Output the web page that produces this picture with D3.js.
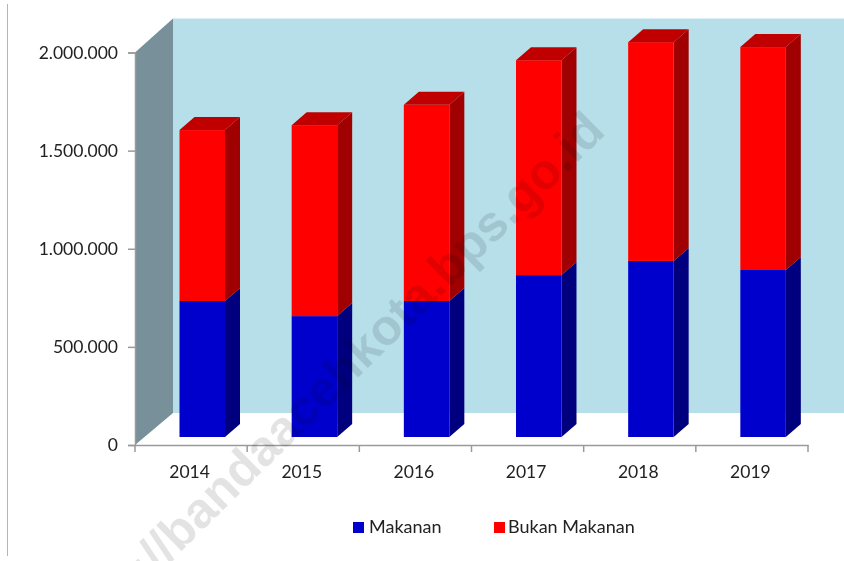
<!DOCTYPE html>
<html><head><meta charset="utf-8">
<script src="https://cdn.jsdelivr.net/npm/d3@7/dist/d3.min.js"></script>
<style>html,body{margin:0;padding:0;background:#fff}svg{display:block}
text{font-family:Lato,"Open Sans",sans-serif}</style></head>
<body><svg id="c" width="844" height="561"></svg>
<script>
const years=["2014","2015","2016","2017","2018","2019"];
const makanan=[693000,616000,693000,825000,897000,851000];
const bukanMakanan=[871000,973000,1000000,1095000,1115000,1136000];
const yTicks=[0,500000,1000000,1500000,2000000];
const seriesNames=["Makanan","Bukan Makanan"];
const faceColors=["#0000cc","#ff0000"];
const sideColors=["#00007f","#a00000"];
const topColors=["#00009a","#c00000"];
const watermark="https://bandaacehkota.bps.go.id";

const svg=d3.select("#c");
const defs=svg.append("defs");
defs.append("filter").attr("id","soft").attr("x","-5%").attr("y","-5%").attr("width","110%").attr("height","110%")
  .append("feGaussianBlur").attr("stdDeviation",0.45);
const root=svg.append("g").attr("filter","url(#soft)");

const x=d3.scaleBand().domain(years).range([135,808]).padding(0);
const y=d3.scaleLinear().domain([0,2000000]).range([445,52.5]);
const dx=38,dyTop=34,dyBottom=32;      // wall depth
const bdx=15,bdy=13;      // bar depth
const barW=45.5,barOff=44.5,baseLift=8;

// frame line on the left
root.append("line").attr("x1",7.5).attr("x2",7.5).attr("y1",4).attr("y2",556).attr("stroke","#b5b5b5");

// walls
const X0=x.range()[0],T=y(2000000),B=y(0);
root.append("polygon").attr("fill","#b7dfe9")
  .attr("points",[[X0+dx,T-dyTop],[844,T-dyTop],[844,B-dyBottom],[X0+dx,B-dyBottom]].join(" "));
root.append("polygon").attr("fill","#78909a")
  .attr("points",[[X0,T],[X0+dx,T-dyTop],[X0+dx,B-dyBottom],[X0,B]].join(" "));

// stacked bars
const stack=years.map((yr,i)=>{let a=makanan[i],b=a+bukanMakanan[i];return {yr,segs:[[0,a],[a,b]]};});
const ys=v=>y(v)-baseLift;
stack.forEach(d=>{
  const l=x(d.yr)+barOff,r=l+barW;
  const g=root.append("g");
  d.segs.forEach((s,k)=>{
    const t=ys(s[1]),b=ys(s[0]);
    g.append("polygon").attr("fill",sideColors[k])
      .attr("points",[[r,b],[r+bdx,b-bdy],[r+bdx,t-bdy],[r,t]].join(" "));
    g.append("rect").attr("x",l).attr("y",t).attr("width",barW).attr("height",b-t).attr("fill",faceColors[k]);
  });
  const t=ys(d.segs[1][1]);
  g.append("polygon").attr("fill",topColors[1])
    .attr("points",[[l,t],[l+bdx,t-bdy],[r+bdx,t-bdy],[r,t]].join(" "));
});

// axes
const fmt=v=>d3.format(",")(v).replace(/,/g,".");
const yAxis=root.append("g").attr("transform","translate(135,0)")
  .call(d3.axisLeft(y).tickValues(yTicks).tickFormat(fmt).tickSize(7).tickPadding(10));
const xAxis=root.append("g").attr("transform","translate(0,445)")
  .call(d3.axisBottom(x).tickSize(0).tickPadding(21));
xAxis.append("g").selectAll("line").data(d3.range(7)).join("line")
  .attr("x1",i=>135+i*x.step()).attr("x2",i=>135+i*x.step()).attr("y1",0).attr("y2",7).attr("stroke","#9a9a9a");
[yAxis,xAxis].forEach(a=>{
  a.selectAll("path.domain,line").attr("stroke","#9a9a9a").attr("stroke-width",1.5);
  a.selectAll("text").attr("font-size",17.5).attr("fill","#222").style("font-family","Lato,sans-serif");
});
xAxis.selectAll(".tick text").attr("dx",-1.5);

// legend
const lg=root.append("g");
[[353,369],[494,508]].forEach((p,i)=>{
  lg.append("rect").attr("x",p[0]).attr("y",522).attr("width",11).attr("height",11).attr("fill",faceColors[i]);
  lg.append("text").attr("x",p[1]).attr("y",533).attr("font-size",18).attr("fill","#222").text(seriesNames[i]);
});

// watermark
svg.append("text").attr("transform","translate(607,133) rotate(-44.5)").attr("text-anchor","end")
  .attr("font-size",50).attr("font-weight",700).attr("fill","#000").attr("fill-opacity",0.11)
  .style("font-family","'Liberation Sans',sans-serif").text(watermark);
</script></body></html>
